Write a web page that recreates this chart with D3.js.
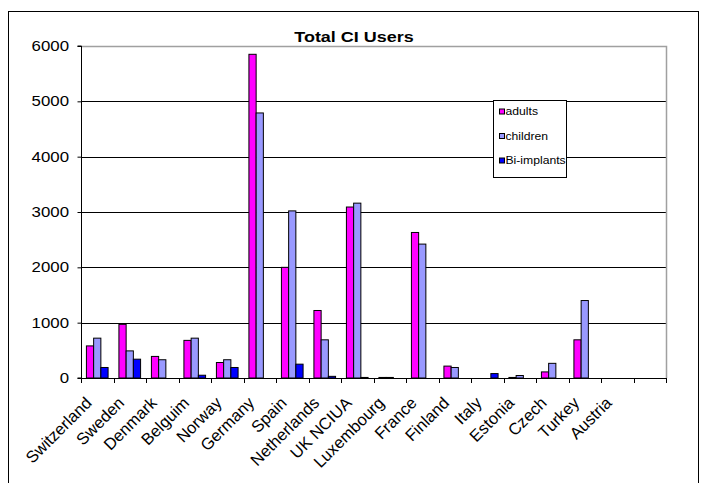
<!DOCTYPE html>
<html>
<head>
<meta charset="utf-8">
<script src="https://cdn.jsdelivr.net/npm/d3@7"></script>
<style>
  html, body { margin: 0; padding: 0; background: #fff; }
  svg { display: block; font-family: Arial, "Liberation Sans", sans-serif; }
</style>
</head>
<body>
<svg id="chart" width="720" height="483"></svg>
<script>
const categories = ["Switzerland","Sweden","Denmark","Belguim","Norway","Germany","Spain","Netherlands","UK NCIUA","Luxembourg","France","Finland","Italy","Estonia","Czech","Turkey","Austria",""];
const adults     = [580, 970, 390, 680, 280, 5850, 2000, 1220, 3090, 10, 2630, 215, 0, 10, 110, 690, 0, 0];
const children   = [720, 490, 330, 720, 330, 4790, 3020, 690, 3160, 10, 2420, 190, 0, 45, 265, 1400, 0, 0];
const biImplants = [190, 340, 0, 50, 190, 0, 250, 30, 10, 0, 0, 0, 80, 0, 0, 0, 0, 0];
const seriesNames = ["adults", "children", "Bi-implants"];
const seriesColors = ["#FF00FF", "#9999FF", "#0000FF"];
const yTicks = [0, 1000, 2000, 3000, 4000, 5000, 6000];
const title = "Total CI Users";

const series = [adults, children, biImplants];
const svg = d3.select("#chart");
const SX = 1.16; // horizontal text stretch seen in the reference

// outer chart border
svg.append("rect").attr("x", 8.5).attr("y", 11.5).attr("width", 690).attr("height", 480)
  .attr("fill", "#fff").attr("stroke", "#000").attr("stroke-width", 1);

const plot = { left: 81, right: 666, top: 46, bottom: 378 };

const x0 = d3.scaleBand().domain(d3.range(categories.length)).range([plot.left, plot.right]).padding(0);
const x1 = d3.scaleBand().domain(d3.range(series.length)).range([0, x0.bandwidth()]).paddingInner(0).paddingOuter(0.75);
const y = d3.scaleLinear().domain([0, 6000]).range([plot.bottom, plot.top]);

// gridlines
svg.append("g").selectAll("line").data(yTicks.filter(d => d > 0 && d < 6000)).join("line")
  .attr("x1", plot.left).attr("x2", plot.right)
  .attr("y1", d => Math.round(y(d)) + 0.5).attr("y2", d => Math.round(y(d)) + 0.5)
  .attr("stroke", "#000").attr("stroke-width", 1);

// plot area border (top & right gray)
svg.append("path")
  .attr("d", `M${plot.left},${plot.top + 0.5}H${plot.right + 0.5}V${plot.bottom}`)
  .attr("fill", "none").attr("stroke", "#a0a0a0").attr("stroke-width", 1.5);

// bars
const gBars = svg.append("g");
categories.forEach((c, i) => {
  series.forEach((s, j) => {
    const v = s[i];
    if (!v) return;
    const bx = x0(i) + x1(j);
    const by = y(v);
    gBars.append("rect")
      .attr("x", bx).attr("y", by)
      .attr("width", x1.bandwidth()).attr("height", Math.max(0.5, y(0) - by))
      .attr("fill", seriesColors[j]).attr("stroke", "#000").attr("stroke-width", 1);
  });
});

// y axis
const yAxis = d3.axisLeft(y).tickValues(yTicks).tickSize(4).tickPadding(8).tickFormat(d3.format("d"));
const gy = svg.append("g").attr("transform", `translate(${plot.left + 0.5},0)`).call(yAxis);
gy.select(".domain").attr("stroke", "#000").attr("d", `M-4,${plot.top}H0V${plot.bottom}H-4`);
gy.selectAll(".tick line").attr("stroke", "#000");
gy.selectAll(".tick text").attr("font-size", "14.5px").attr("fill", "#000")
  .attr("font-family", "Arial, 'Liberation Sans', sans-serif")
  .attr("x", 0).attr("transform", `translate(-12.5,0) scale(${SX},1)`);

// x axis line & ticks
svg.append("line").attr("x1", plot.left).attr("x2", plot.right + 0.5)
  .attr("y1", plot.bottom + 0.5).attr("y2", plot.bottom + 0.5).attr("stroke", "#000");
svg.append("g").selectAll("line").data(d3.range(categories.length + 1)).join("line")
  .attr("x1", d => Math.round(plot.left + d * x0.step()) + 0.5)
  .attr("x2", d => Math.round(plot.left + d * x0.step()) + 0.5)
  .attr("y1", plot.bottom).attr("y2", plot.bottom + 5)
  .attr("stroke", "#000");

// x labels
svg.append("g").selectAll("text").data(categories).join("text")
  .attr("transform", (d, i) => `translate(${x0(i) + x0.bandwidth() / 2 - 4.5},${plot.bottom + 26}) rotate(-45)`)
  .attr("text-anchor", "end")
  .attr("font-size", "16.5px").attr("fill", "#000")
  .text(d => d);

// title
svg.append("text").attr("transform", `translate(354,42) scale(${SX},1)`).attr("text-anchor", "middle")
  .attr("font-size", "15.5px").attr("font-weight", "bold").attr("fill", "#000")
  .text(title);

// legend
const leg = svg.append("g");
leg.append("rect").attr("x", 493.5).attr("y", 100.5).attr("width", 73).attr("height", 77)
  .attr("fill", "#fff").attr("stroke", "#000").attr("stroke-width", 1);
const legY = d3.scalePoint().domain(seriesNames).range([111.5, 160.5]);
seriesNames.forEach((n, j) => {
  leg.append("rect").attr("x", 499.5).attr("y", legY(n) - 2.5).attr("width", 5).attr("height", 5)
    .attr("fill", seriesColors[j]).attr("stroke", "#000").attr("stroke-width", 1);
  leg.append("text").attr("transform", `translate(505.5,${legY(n)}) scale(${SX},1)`).attr("dy", "0.35em")
    .attr("font-size", "10.5px").attr("fill", "#000").text(n);
});
</script>
</body>
</html>
